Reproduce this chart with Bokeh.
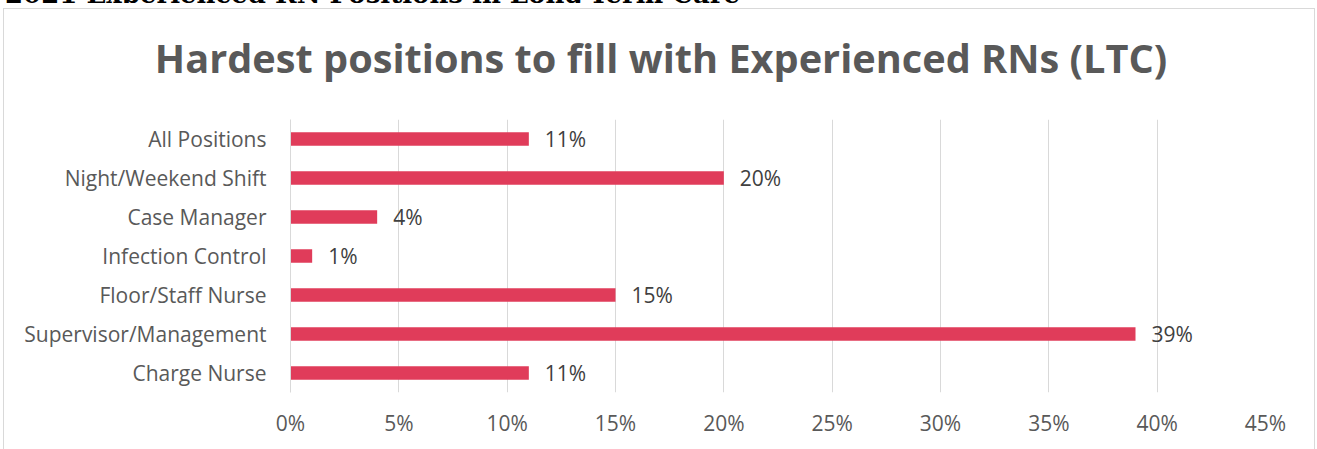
from bokeh.plotting import figure
from bokeh.models import FactorRange, Range1d, FixedTicker, NumeralTickFormatter, ColumnDataSource, Div
from bokeh.layouts import column
from bokeh.core.properties import value
from bokeh.embed import file_html
from bokeh.resources import INLINE

categories = ["All Positions", "Night/Weekend Shift", "Case Manager", "Infection Control",
              "Floor/Staff Nurse", "Supervisor/Management", "Charge Nurse"]
values = [0.11, 0.20, 0.04, 0.01, 0.15, 0.39, 0.11]
labels = ["11%", "20%", "4%", "1%", "15%", "39%", "11%"]
x_ticks = [0, 0.05, 0.10, 0.15, 0.20, 0.25, 0.30, 0.35, 0.40, 0.45]
title_text = "Hardest positions to fill with Experienced RNs (LTC)"
header_text = "2021 Experienced RN Positions in Long-Term Care"

FONT = "Open Sans"
GREY = "#595959"

src = ColumnDataSource(dict(cat=categories, val=values, lab=labels))

p = figure(width=1310, height=334, output_backend="svg", toolbar_location=None,
           y_range=FactorRange(*categories[::-1], range_padding=0),
           x_range=Range1d(0, 0.45),
           min_border_left=286, min_border_right=49, min_border_top=0, min_border_bottom=61)
p.outline_line_color = None

p.hbar(y="cat", right="val", left=0, height=0.35, source=src, color="#E03C5A", line_color=None)
p.text(x="val", y="cat", text="lab", source=src, x_offset=16, text_baseline="middle",
       text_font=value(FONT), text_font_size="21px", text_color="#404040")

p.xaxis.ticker = FixedTicker(ticks=x_ticks)
p.xaxis.formatter = NumeralTickFormatter(format="0%")
p.xaxis.axis_line_color = None
p.xaxis.major_tick_line_color = None
p.xaxis.minor_tick_line_color = None
p.xaxis.major_label_text_font = FONT
p.xaxis.major_label_text_font_size = "21px"
p.xaxis.major_label_text_color = GREY
p.xaxis.major_label_standoff = 10

p.yaxis.axis_line_color = "#d9d9d9"
p.yaxis.major_tick_line_color = None
p.yaxis.minor_tick_line_color = None
p.yaxis.major_label_text_font = FONT
p.yaxis.major_label_text_font_size = "21px"
p.yaxis.major_label_text_color = GREY
p.yaxis.major_label_standoff = 18

p.xgrid.grid_line_color = "#d9d9d9"
p.ygrid.grid_line_color = None

title_div = Div(text="<div style=\"position:relative; left:2px; margin-top:29px; line-height:40px; "
                     "font-family:'Open Sans'; font-weight:bold; font-size:39.7px; color:" + GREY + "; "
                     "text-align:center; white-space:nowrap; width:1310px;\">" + title_text + "</div>",
                width=1310, height=110, margin=0)

header = Div(text="<div style=\"position:relative; top:-21px; left:0px; font-family:'DejaVu Serif'; font-weight:bold; "
                  "font-size:26px; white-space:nowrap; color:#000;\">" + header_text + "</div>",
             width=1300, height=6, styles={"overflow": "hidden"})

box = column(title_div, p, spacing=0, styles={"border": "1px solid #d9d9d9", "margin-left": "3px"})
root = column(header, box, spacing=0, styles={"margin-top": "-8px"})

open("out.html", "w").write(file_html(root, INLINE))
